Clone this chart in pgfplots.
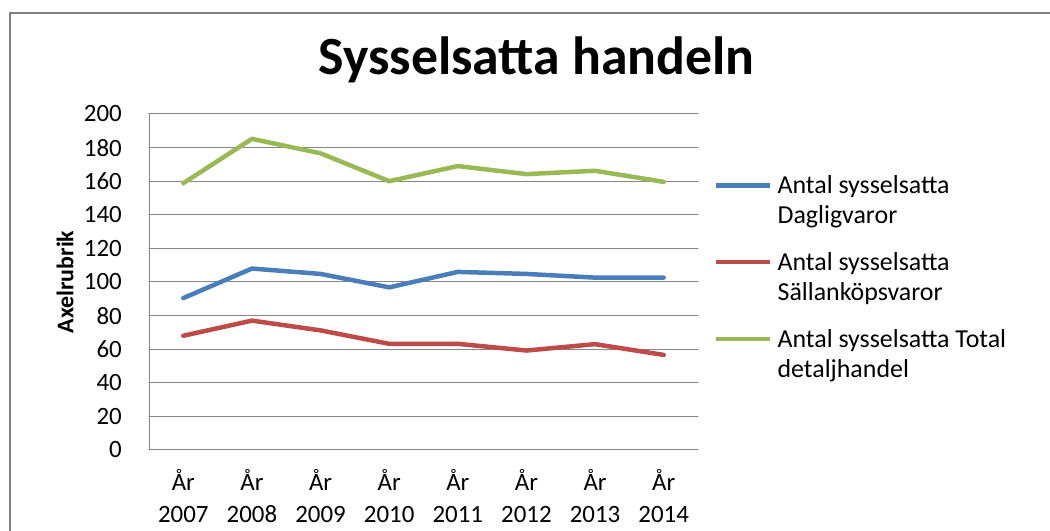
\documentclass[border=0pt]{standalone}
\usepackage{fontspec}
\setmainfont{Carlito}
\usepackage{pgfplots}
\pgfplotsset{compat=1.18}
\definecolor{serBlue}{RGB}{74,126,187}
\definecolor{serRed}{RGB}{190,75,72}
\definecolor{serGreen}{RGB}{152,185,84}
\definecolor{gridGray}{RGB}{134,134,134}
\definecolor{frameGray}{RGB}{128,128,128}

\begin{document}
\begin{tikzpicture}[x=1bp,y=1bp]
\path[use as bounding box] (0,0) rectangle (1050,531);
\draw[frameGray, line width=2.5bp] (10,-3) -- (10,518) -- (1053,518);
\node[font=\fontsize{54}{60}\selectfont\bfseries, anchor=base] at (536.5,456) {Sysselsatta handeln};
\begin{axis}[
  at={(149bp,81bp)}, anchor=south west, scale only axis,
  width=549bp, height=336bp,
  xmin=-0.5, xmax=7.5, ymin=0, ymax=200,
  xtick={0,...,7},
  xticklabels={{År\\2007},{År\\2008},{År\\2009},{År\\2010},{År\\2011},{År\\2012},{År\\2013},{År\\2014}},
  ytick={0,20,...,200},
  axis x line*=bottom, axis y line*=left,
  axis line style={gridGray, line width=1bp, -},
  major tick style={draw=none},
  ymajorgrids, grid style={gridGray, line width=1bp},
  yticklabel style={font=\fontsize{25}{32}\selectfont, inner sep=0pt, anchor=east, xshift=-27bp},
  xticklabel style={font=\fontsize{25}{32}\selectfont, inner sep=0pt, anchor=north, align=center, yshift=-19bp},
  /pgf/number format/assume math mode=true,
  ylabel={\fontsize{24}{28}\selectfont\bfseries Axelrubrik},
  every axis y label/.style={at={(-84bp,168bp)}, rotate=90, anchor=center},
  legend cell align=left,
  legend style={draw=none, fill=none, inner sep=0pt,
    at={(1.029,0.818)}, anchor=north west,
    font=\fontsize{26}{30.5}\selectfont,
    column sep=5bp, row sep=27bp,
    nodes={inner sep=0pt, align=left}},
  legend image code/.code={\draw[#1, line width=4.5bp] (0bp,15bp) -- (54bp,15bp);},
  line join=round, line cap=round,
]
\addplot[serBlue, line width=4.5bp] coordinates {
  (0,90.4) (1,108) (2,104.8) (3,96.8) (4,106) (5,104.8) (6,102.6) (7,102.6)};
\addlegendentry{Antal sysselsatta\\Dagligvaror}
\addplot[serRed, line width=4.5bp] coordinates {
  (0,68) (1,77) (2,71.2) (3,63.2) (4,63.2) (5,59.2) (6,63) (7,56.6)};
\addlegendentry{Antal sysselsatta\\Sällanköpsvaror}
\addplot[serGreen, line width=4.5bp] coordinates {
  (0,158.8) (1,185.2) (2,176.6) (3,160) (4,169) (5,164.2) (6,166.2) (7,159.6)};
\addlegendentry{Antal sysselsatta Total\\detaljhandel}
\end{axis}
\end{tikzpicture}
\end{document}
